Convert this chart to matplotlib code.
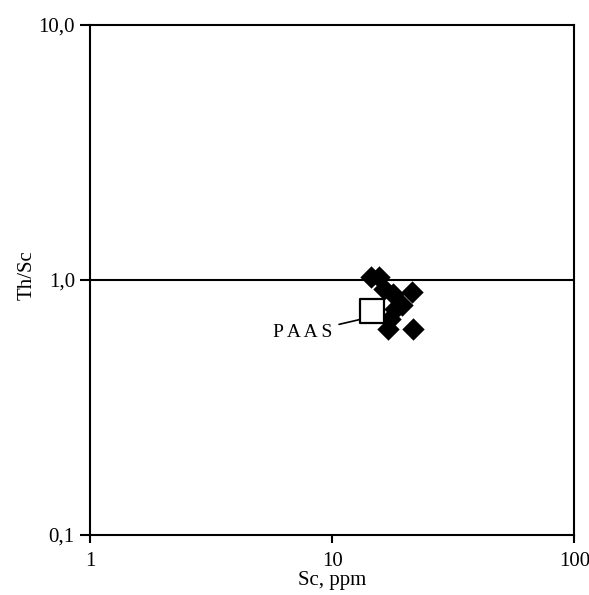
import matplotlib.pyplot as plt
from matplotlib.ticker import FixedLocator, NullLocator

# samples (Sc, ppm vs Th/Sc)
sc = [14.4, 15.6, 16.3, 17.9, 21.4, 19.5, 18.2, 17.4, 17.0, 21.6]
th_sc = [1.03, 1.03, 0.92, 0.88, 0.90, 0.80, 0.77, 0.70, 0.64, 0.64]
# PAAS reference point
paas_sc = [14.6]
paas_th_sc = [0.755]

x_ticks = [1, 10, 100]
x_labels = ["1", "10", "100"]
y_ticks = [0.1, 1.0, 10.0]
y_labels = ["0,1", "1,0", "10,0"]

plt.rcParams['font.family'] = ['Liberation Serif', 'DejaVu Serif']

fig = plt.figure(figsize=(5.89, 5.95), dpi=100)
ax = fig.add_axes([0.153, 0.101, 0.822, 0.857])
ax.set_xscale('log')
ax.set_yscale('log')
ax.set_xlim(1, 100)
ax.set_ylim(0.1, 10)

ax.axhline(1.0, color='black', lw=1.5, zorder=1)
ax.scatter(sc, th_sc, marker='D', s=130, color='black', zorder=3, linewidths=0)
ax.scatter(paas_sc, paas_th_sc, marker='s', s=320, facecolor='white',
           edgecolor='black', linewidths=1.6, zorder=4)
ax.annotate('P A A S', xy=(13.05, 0.70), xytext=(10.0, 0.62),
            ha='right', va='center', fontsize=14,
            arrowprops=dict(arrowstyle='-', color='black', lw=1.2,
                            shrinkA=3, shrinkB=0))

ax.xaxis.set_major_locator(FixedLocator(x_ticks))
ax.xaxis.set_minor_locator(NullLocator())
ax.set_xticklabels(x_labels)
ax.yaxis.set_major_locator(FixedLocator(y_ticks))
ax.yaxis.set_minor_locator(NullLocator())
ax.set_yticklabels(y_labels)
ax.tick_params(axis='y', length=7, width=1.5, labelsize=15, pad=4)
ax.tick_params(axis='x', length=6, width=1.5, labelsize=15, pad=6)

for s in ax.spines.values():
    s.set_linewidth(1.5)

ax.set_xlabel('Sc, ppm', fontsize=15, labelpad=0)
ax.set_ylabel('Th/Sc', fontsize=15)
ax.yaxis.set_label_coords(-0.11, 0.51)

fig.savefig('out.png', dpi=100)
